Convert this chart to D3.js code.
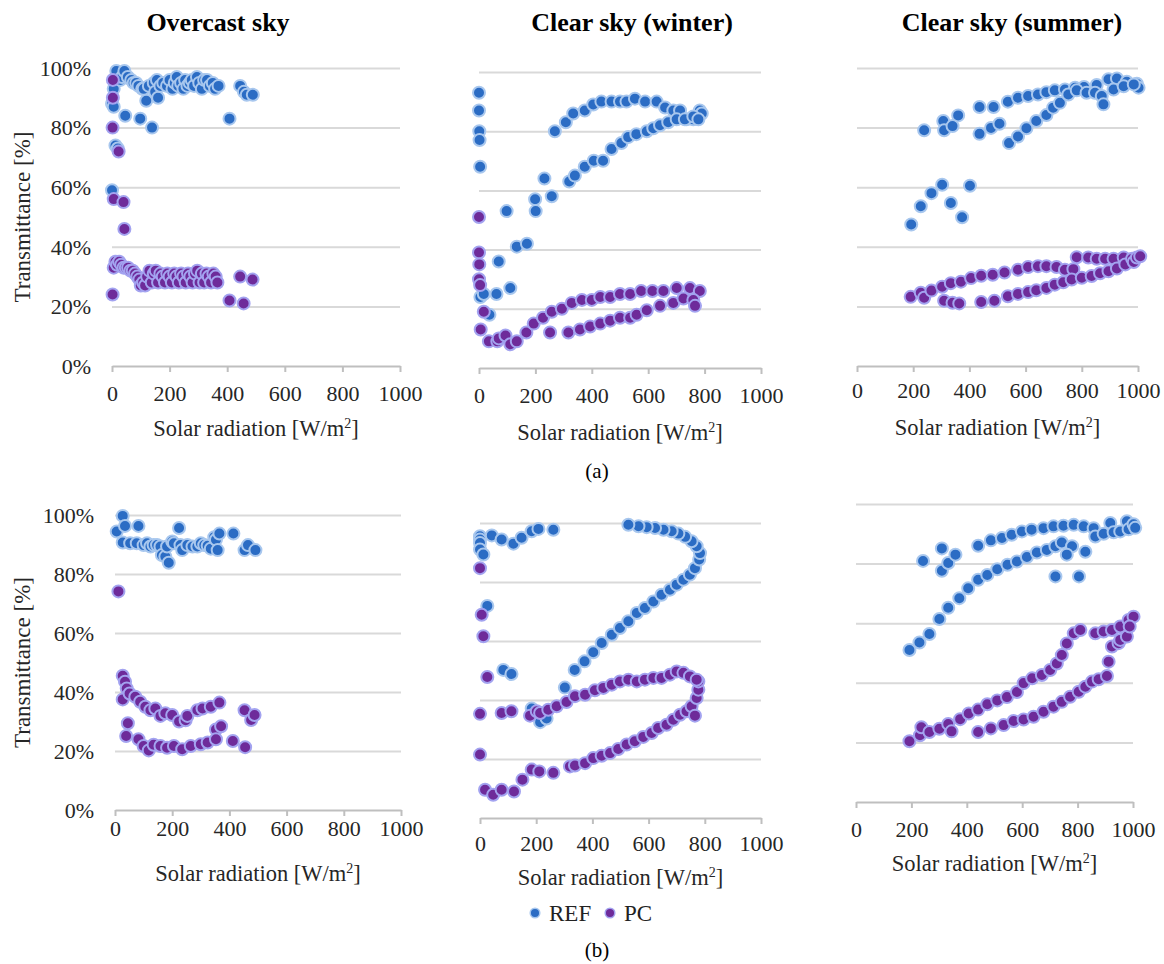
<!DOCTYPE html>
<html>
<head>
<meta charset="utf-8">
<script src="https://cdn.jsdelivr.net/npm/d3@7"></script>
<style>
  body { margin: 0; background: #fff; }
  svg text { font-family: "Liberation Serif", "DejaVu Serif", "Times New Roman", serif !important; }
</style>
</head>
<body>
<svg id="chart" width="1164" height="964"></svg>
<script>
// ---- data: [solar radiation W/m2, transmittance %] ----
const aOvercastRef = [[0,88],[0,59],[6,87],[6,93],[12,74],[15,99],[20,73],[29,96],[35,97],[43,99],[46,84],[55,97],[67,96],[75,95],[84,95],[92,94],[98,83],[105,93],[110,93],[119,89],[128,94],[139,80],[145,95],[150,92],[156,96],[160,90],[168,94],[178,95],[191,94],[200,96],[210,93],[218,95],[225,97],[230,94],[240,95],[248,93],[254,96],[262,94],[270,95],[277,96],[285,94],[295,97],[303,95],[312,93],[320,96],[330,96],[340,94],[350,95],[358,93],[370,94],[408,83],[445,94],[458,92],[468,91],[489,91]];
const aOvercastPc = [[3,96],[3,90],[2,80],[23,72],[6,56],[40,55],[43,46],[6,33],[2,24],[12,35],[18,34],[25,35],[32,34],[40,33],[48,33],[56,33],[64,32],[72,32],[80,31],[88,30],[95,29],[100,27],[108,28],[115,27],[122,30],[130,32],[138,28],[145,31],[152,32],[160,28],[168,31],[176,30],[184,28],[192,31],[200,30],[208,28],[216,31],[224,30],[232,28],[240,31],[248,30],[256,28],[264,31],[272,30],[280,28],[288,31],[296,32],[304,28],[312,31],[320,28],[328,31],[336,30],[344,28],[352,31],[360,30],[366,28],[408,22],[445,30],[457,21],[488,29]];

const aWinterRef = [[0,93],[0,87],[1,80],[2,77],[4,68],[5,24],[17,25],[37,18],[62,25],[70,36],[98,53],[111,27],[134,41],[170,42],[199,57],[201,53],[232,64],[258,58],[269,80],[308,83],[334,86],[375,87],[405,89],[434,90],[470,90],[500,90],[523,90],[553,91],[589,90],[630,90],[660,88],[689,87],[713,87],[736,84],[760,84],[783,87],[790,86],[320,63],[340,65],[375,68],[407,70],[440,70],[470,74],[505,76],[529,78],[558,79],[595,80],[618,81],[642,82],[671,83],[701,84],[730,84],[760,85],[778,84]];
const aWinterPc = [[0,51],[0,39],[1,35],[0,30],[4,28],[17,19],[6,13],[35,9],[65,9],[70,10],[94,11],[111,8],[134,9],[168,12],[194,15],[227,17],[258,19],[294,20],[329,22],[365,23],[400,23],[430,24],[465,24],[500,25],[536,25],[575,26],[615,26],[654,26],[701,27],[748,27],[783,26],[252,12],[317,12],[358,13],[394,14],[430,15],[465,16],[500,17],[536,17],[559,18],[595,19.5],[642,21],[689,22],[725,23.5],[760,23],[766,21]];

const aSummerRef = [[193,47.5],[227,53.6],[265,58],[303,60.8],[334,54.7],[374,49.9],[402,60.5],[239,79.1],[307,82.2],[310,79.1],[340,80.5],[360,84.1],[436,86.9],[486,86.9],[436,77.9],[477,79.9],[507,81.3],[537,88.7],[573,90],[609,90.6],[644,91.1],[674,91.9],[704,92.5],[740,92.8],[776,93.4],[808,93.6],[853,94.3],[895,96.2],[925,96.5],[960,95.4],[996,94.7],[1002,93.4],[541,74.8],[573,77],[603,79.8],[638,82.2],[674,84.2],[698,86.7],[722,88.3],[752,91.1],[782,92.5],[817,91.7],[847,91.7],[871,90.6],[877,87.8],[913,92.8],[949,93.9],[985,94.5]];
const aSummerPc = [[191,23.2],[227,24.6],[239,22.9],[265,25.3],[303,26.6],[310,21.9],[334,27.8],[340,21.2],[370,28.3],[364,21],[406,29.5],[442,30.3],[442,21.5],[483,30.6],[489,21.9],[525,31.4],[537,23.4],[573,32.3],[573,24.2],[609,33.2],[609,24.8],[644,33.5],[638,25.4],[674,33.5],[674,26.2],[710,33.2],[704,27.3],[740,32.3],[734,28.1],[770,32.5],[764,29],[782,36.5],[800,29.6],[823,36.4],[835,30.2],[853,36],[865,31.1],[883,36],[895,31.8],[913,36],[925,32.7],[949,36.4],[955,34.1],[979,36],[985,34.9],[996,36.4],[1008,36.8]];

const bOvercastRef = [[6,94.4],[27,99.7],[35,96.3],[27,90.7],[82,96.3],[53,90.4],[76,90.4],[100,89.8],[112,90.4],[124,89.3],[135,89.8],[147,89.8],[159,89.3],[164,86.4],[176,85.9],[182,89.3],[188,83.8],[200,91],[206,90.4],[224,95.6],[229,89.8],[235,88.1],[253,89.8],[271,89.3],[288,89.3],[300,90.4],[312,89.8],[324,89.6],[335,88.6],[347,92.5],[353,91.6],[359,88.1],[365,93.7],[414,93.7],[453,88.1],[465,89.8],[491,88.1]];
const bOvercastPc = [[12,74.1],[27,45.5],[35,43.5],[41,41.2],[27,37.5],[51,39.5],[71,38.4],[88,36.7],[106,35],[124,33.8],[141,34.4],[159,31.9],[176,32.8],[200,32.2],[224,30],[247,30.4],[253,31.9],[288,33.8],[306,34.4],[335,35],[365,36.4],[353,27.3],[371,28.4],[453,33.8],[476,30.5],[488,32.2],[45,29.4],[39,25.1],[82,24],[100,21.7],[118,20.2],[135,22.1],[159,21.7],[182,21.1],[206,21.7],[235,20.6],[265,21.7],[300,22.3],[324,22.9],[353,24],[412,23.4],[455,21.3]];

const bWinterRef = [[0,95.5],[0,94.4],[0,93.2],[0,91],[12,89.3],[42,95.8],[77,94.4],[119,93],[148,95],[184,97.2],[208,98],[261,97.7],[26,71.9],[83,50.2],[112,48.8],[184,37.1],[214,32.5],[237,33.7],[302,44.2],[337,50.2],[372,53.1],[403,56.2],[433,59.3],[469,62.1],[498,64.4],[528,66.7],[558,69.5],[587,71.2],[617,73.4],[646,75.7],[676,77.4],[700,79.1],[724,80.8],[747,82.5],[765,84.7],[780,87.6],[783,89.8],[771,92.1],[753,93.8],[730,95.3],[706,96.4],[682,97.2],[653,97.7],[623,98.3],[593,98.6],[564,98.9],[528,99.4]];
const bWinterPc = [[0,84.7],[6,68.9],[12,61.6],[26,47.8],[0,35.3],[77,35.6],[112,36.2],[178,34.7],[0,21.5],[18,9.6],[47,7.9],[77,9.6],[121,9],[151,13],[184,16.4],[211,15.8],[261,15.3],[320,17.5],[338,17.8],[374,18.6],[403,20.3],[433,21.1],[463,22],[492,23.4],[522,24.9],[551,26],[581,27.5],[611,28.8],[634,30.5],[664,31.6],[688,33.3],[712,35],[735,36.2],[753,37.9],[765,34.7],[771,40.7],[777,43.5],[777,46.3],[202,36.2],[214,35.6],[243,36.7],[273,37.9],[308,39.3],[338,41.3],[374,41.8],[409,43.3],[439,44.1],[469,45.2],[498,46.3],[528,46.9],[558,46.3],[587,46.9],[617,47.5],[646,47.5],[676,48.6],[700,49.7],[724,49.2],[747,48],[771,46.9]];

const bSummerRef = [[193,51],[229,53.5],[265,56.4],[301,61.4],[333,65.2],[373,68.4],[405,71.7],[441,74.6],[474,76.2],[510,78.1],[547,79.6],[581,80.7],[617,82.2],[653,83.7],[689,84.6],[720,85.8],[743,87.1],[780,85.8],[761,83],[828,84],[720,75.7],[805,75.7],[242,80.9],[310,85.1],[310,77.6],[333,80.2],[359,83],[441,86],[487,87.8],[527,88.6],[562,89.7],[599,90.8],[634,91.4],[677,91.9],[713,92.5],[749,92.7],[786,93],[822,92.5],[858,91.9],[864,89.1],[894,90],[918,93.6],[930,90.5],[954,90.8],[978,94.2],[984,91.5],[1002,93.2],[1008,92]];
const bSummerPc = [[193,20.4],[231,22.4],[236,25.1],[265,23.5],[301,24.6],[333,26.2],[345,23.7],[376,27.8],[407,29.7],[441,31],[474,32.8],[510,34.1],[545,35.2],[581,36.9],[605,39.9],[636,41.5],[671,42.6],[701,44.3],[725,46.5],[743,49.3],[761,53.2],[786,56.6],[810,57.7],[864,56.6],[894,57.2],[924,57.7],[954,58.9],[984,61.1],[1002,62.2],[441,23.5],[487,24.7],[533,25.8],[569,27.2],[605,27.7],[641,28.6],[677,30.3],[713,32],[743,33.6],[773,35.3],[804,37],[828,38.7],[852,40.4],[876,41.2],[906,42.3],[912,47.1],[924,52.2],[948,53.3],[954,54.4],[978,55.5],[988,58.9]];

const xTicks = [0, 200, 400, 600, 800, 1000];
const yTicks = [0, 20, 40, 60, 80, 100];
const panelTitles = ["Overcast sky", "Clear sky (winter)", "Clear sky (summer)"];
const seriesNames = ["REF", "PC"];
const xTitle = "Solar radiation [W/m";
const yTitle = "Transmittance [%]";

// ---- styles ----
const fills = { REF: "#2b6cc4", PC: "#6e2b9a" };
const rims = { REF: "#a8c7ee", PC: "#a3a3f0" };
const gridColor = "#d9d9d9";
const axisColor = "#bfbfbf";
const labelColor = "#262626";
const serif = '"Liberation Serif", "DejaVu Serif", serif';

// panel boxes (pixel layout of each plot area)
const panels = [
  { ref: aOvercastRef, pc: aOvercastPc, x0: 112, x1: 400, top: 68, bot: 366, tickY: 393, titleY: 428, yLabels: true },
  { ref: aWinterRef, pc: aWinterPc, x0: 479, x1: 761, top: 72, bot: 368, tickY: 395, titleY: 432 },
  { ref: aSummerRef, pc: aSummerPc, x0: 857, x1: 1138, top: 68, bot: 366, tickY: 390, titleY: 427 },
  { ref: bOvercastRef, pc: bOvercastPc, x0: 115, x1: 401, top: 515, bot: 810, tickY: 828, titleY: 873, yLabels: true },
  { ref: bWinterRef, pc: bWinterPc, x0: 480, x1: 761, top: 523, bot: 818, tickY: 843, titleY: 877 },
  { ref: bSummerRef, pc: bSummerPc, x0: 856, x1: 1133, top: 504, bot: 802, tickY: 829, titleY: 863 }
];

const svg = d3.select("#chart");

function drawPanel(p) {
  const x = d3.scaleLinear().domain([0, 1000]).range([p.x0, p.x1]);
  const y = d3.scaleLinear().domain([0, 100]).range([p.bot, p.top]);
  const g = svg.append("g");

  // horizontal gridlines
  const grid = g.append("g")
    .attr("transform", `translate(${p.x0},0)`)
    .call(d3.axisLeft(y).tickValues(yTicks.slice(1)).tickSize(-(p.x1 - p.x0)).tickFormat(""));
  grid.select(".domain").remove();
  grid.selectAll("line").attr("stroke", gridColor).attr("stroke-width", 2);

  // x axis with ticks
  const xa = g.append("g")
    .attr("transform", `translate(0,${p.bot})`)
    .call(d3.axisBottom(x).tickValues(xTicks).tickFormat(d3.format("d")).tickSize(6).tickSizeOuter(0))
    .attr("font-family", serif).attr("font-size", 22);
  xa.select(".domain").attr("stroke", axisColor).attr("stroke-width", 2);
  xa.selectAll("line").attr("stroke", axisColor).attr("stroke-width", 2);
  xa.selectAll("text")
    .attr("y", p.tickY - p.bot).attr("dy", "0.35em")
    .attr("fill", labelColor);

  const xt = g.append("text")
    .attr("x", (p.x0 + p.x1) / 2).attr("y", p.titleY).attr("dy", "0.35em")
    .attr("text-anchor", "middle").attr("fill", labelColor)
    .attr("font-size", 22.5);
  xt.append("tspan").text(xTitle);
  xt.append("tspan").attr("dy", -8).attr("font-size", 14).text("2");
  xt.append("tspan").attr("dy", 8).text("]");

  if (p.yLabels) {
    g.selectAll(".ylab").data(yTicks).join("text")
      .attr("x", p.x0 - 21).attr("y", d => y(d)).attr("dy", "0.35em")
      .attr("text-anchor", "end").attr("fill", labelColor)
      .attr("font-size", 22).text(d => d + "%");
    g.append("text")
      .attr("transform", `translate(22,${(p.top + p.bot) / 2}) rotate(-90)`)
      .attr("dy", "0.35em").attr("text-anchor", "middle").attr("fill", labelColor)
      .attr("font-size", 23).text(yTitle);
  }

  // points: REF first, PC on top
  [["REF", p.ref], ["PC", p.pc]].forEach(([name, data]) => {
    g.append("g").selectAll("circle").data(data).join("circle")
      .attr("cx", d => x(d[0])).attr("cy", d => y(d[1])).attr("r", 6)
      .attr("fill", fills[name]).attr("stroke", rims[name]).attr("stroke-width", 2);
  });
}

panels.forEach(drawPanel);

// column titles
const titleX = [218, 632, 1012];
svg.selectAll(".ptitle").data(panelTitles).join("text")
  .attr("x", (d, i) => titleX[i]).attr("y", 22).attr("dy", "0.35em")
  .attr("text-anchor", "middle").attr("fill", "#000")
  .attr("font-size", 26).attr("font-weight", "bold").text(d => d);

// sub-figure labels
svg.append("text").attr("x", 597).attr("y", 471).attr("dy", "0.35em")
  .attr("text-anchor", "middle").attr("font-size", 21).text("(a)");
svg.append("text").attr("x", 597).attr("y", 950).attr("dy", "0.35em")
  .attr("text-anchor", "middle").attr("font-size", 21).text("(b)");

// legend
const legX = [535, 610];
const leg = svg.append("g");
seriesNames.forEach((name, i) => {
  leg.append("circle").attr("cx", legX[i]).attr("cy", 913).attr("r", 4.8)
    .attr("fill", fills[name]).attr("stroke", rims[name]).attr("stroke-width", 1.5);
  leg.append("text").attr("x", legX[i] + 14).attr("y", 913).attr("dy", "0.35em")
    .attr("fill", "#222").attr("font-size", 23).text(name);
});
</script>
</body>
</html>
